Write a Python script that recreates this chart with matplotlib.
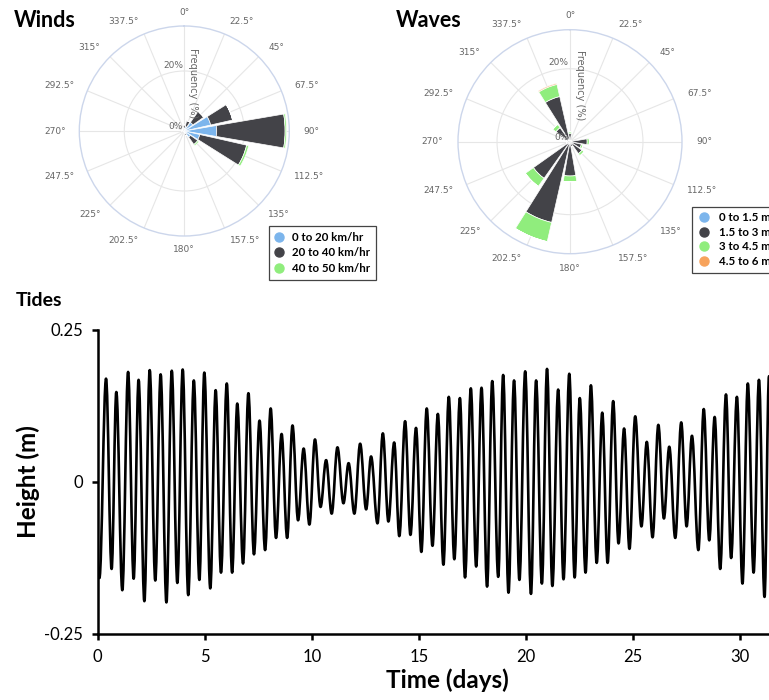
import matplotlib
matplotlib.use('Agg')
import matplotlib.pyplot as plt
import numpy as np
from matplotlib.path import Path
from matplotlib.patches import PathPatch
from matplotlib.lines import Line2D

# ---- rose data (frequency %, per direction) ----
rose_dirs = [0, 22.5, 45, 67.5, 90, 112.5, 135, 157.5, 180, 202.5, 225, 247.5, 270, 292.5, 315, 337.5]

wind_labels = ['0 to 20 km/hr', '20 to 40 km/hr', '40 to 50 km/hr']
wind_slow = [0.8, 1.5, 3.5, 9.0, 10.8, 5.3, 2.5, 0.8, 0.4, 0.3, 0.3, 0.3, 0.5, 0.4, 0.5, 0.6]
wind_mid = [1.2, 2.0, 4.4, 7.5, 22.8, 16.0, 3.0, 0.8, 0.3, 0.0, 0.0, 0.2, 0.5, 0.4, 0.4, 0.5]
wind_fast = [0.0, 0.0, 0.0, 0.0, 0.5, 0.7, 0.5, 0.0, 0.0, 0.0, 0.0, 0.0, 0.0, 0.0, 0.0, 0.0]

wave_labels = ['0 to 1.5 m', '1.5 to 3 m', '3 to 4.5 m', '4.5 to 6 m']
wave_low = [0.2, 0.0, 0.0, 0.0, 0.2, 0.0, 0.0, 0.0, 0.2, 0.2, 0.2, 0.0, 0.0, 0.0, 0.2, 0.2]
wave_mid = [2.0, 0.3, 0.3, 0.5, 4.5, 3.2, 4.0, 1.5, 9.2, 22.5, 12.1, 1.0, 0.8, 1.0, 4.5, 12.5]
wave_high = [0.5, 0.0, 0.0, 0.0, 0.6, 0.5, 0.7, 0.0, 1.6, 5.4, 2.7, 0.0, 0.0, 0.0, 1.1, 3.4]
wave_top = [0.0, 0.0, 0.0, 0.0, 0.0, 0.0, 0.0, 0.0, 0.0, 0.0, 0.0, 0.0, 0.0, 0.0, 0.0, 0.3]

rose_colors = ['#7cb5ec', '#434348', '#90ed7d', '#f7a35c']

# ---- tide extrema (days, metres) ----
peak_days = [0.39, 0.87, 1.42, 1.91, 2.43, 2.94, 3.46, 3.97, 4.49, 4.98, 5.51, 6.03, 6.52, 7.04,
             7.56, 8.08, 8.59, 9.10, 9.62, 10.15, 10.67, 11.20, 11.72, 12.26, 12.77, 13.32, 13.85,
             14.36, 14.87, 15.37, 15.89, 16.40, 16.92, 17.43, 17.93, 18.43, 18.94, 19.45, 19.97,
             20.48, 20.99, 21.51, 22.03, 22.52, 23.04, 23.57, 24.08, 24.59, 25.11, 25.65, 26.19,
             26.70, 27.26, 27.76, 28.31, 28.82, 29.35, 29.86, 30.37, 30.89, 31.36]
peak_m = [0.170, 0.148, 0.181, 0.168, 0.184, 0.177, 0.183, 0.185, 0.167, 0.180, 0.151, 0.162,
          0.129, 0.146, 0.101, 0.121, 0.079, 0.093, 0.055, 0.070, 0.036, 0.057, 0.031, 0.063,
          0.042, 0.080, 0.065, 0.100, 0.089, 0.121, 0.112, 0.140, 0.138, 0.154, 0.155, 0.166,
          0.176, 0.167, 0.182, 0.167, 0.186, 0.152, 0.178, 0.138, 0.159, 0.114, 0.133, 0.088,
          0.108, 0.066, 0.094, 0.058, 0.098, 0.076, 0.120, 0.107, 0.144, 0.140, 0.162, 0.168, 0.174]
trough_days = [0.08, 0.65, 1.15, 1.68, 2.18, 2.69, 3.21, 3.72, 4.23, 4.75, 5.26, 5.76, 6.28, 6.79,
               7.30, 7.82, 8.33, 8.85, 9.36, 9.89, 10.41, 10.93, 11.48, 11.99, 12.54, 13.07, 13.58,
               14.09, 14.61, 15.12, 15.64, 16.15, 16.66, 17.16, 17.68, 18.19, 18.71, 19.19, 19.70,
               20.24, 20.75, 21.24, 21.76, 22.28, 22.79, 23.31, 23.82, 24.33, 24.84, 25.40, 25.92,
               26.45, 26.98, 27.51, 28.06, 28.57, 29.08, 29.59, 30.12, 30.64, 31.15]
trough_m = [-0.158, -0.143, -0.178, -0.159, -0.196, -0.162, -0.198, -0.166, -0.186, -0.161, -0.175,
            -0.149, -0.149, -0.134, -0.119, -0.112, -0.092, -0.092, -0.063, -0.070, -0.041, -0.052,
            -0.035, -0.052, -0.045, -0.068, -0.065, -0.089, -0.087, -0.115, -0.105, -0.136, -0.127,
            -0.157, -0.139, -0.172, -0.156, -0.182, -0.161, -0.184, -0.167, -0.171, -0.160, -0.157,
            -0.149, -0.133, -0.133, -0.101, -0.110, -0.073, -0.091, -0.060, -0.092, -0.073, -0.112,
            -0.096, -0.143, -0.125, -0.167, -0.149, -0.189]

x_ticks = [0, 5, 10, 15, 20, 25, 30]
y_ticks = [-0.25, 0, 0.25]
y_ticklabels = ['-0.25', '0', '0.25']

W, H = 769, 700
GRAY = '#666666'

fig = plt.figure(figsize=(W / 100, H / 100), dpi=100)


def px_rect(cx, cy, r):
    """axes rect for a circle centred at pixel (cx, cy) with pixel radius r"""
    return [(cx - r) / W, 1 - (cy + r) / H, 2 * r / W, 2 * r / H]


def draw_rose(rect, series, labels, rmax, freq_r, freq_dx, legend_xy, spacing, hlen, hpad):
    ax = fig.add_axes(rect, projection='polar')
    ax.set_theta_zero_location('N')
    ax.set_theta_direction(-1)
    theta = np.deg2rad(rose_dirs)
    width = np.deg2rad(22.5) * 0.86
    bottom = np.zeros(len(rose_dirs))
    for vals, col in zip(series, rose_colors):
        vals = np.array(vals)
        ax.bar(theta, vals, width=width, bottom=bottom, color=col, edgecolor='white', linewidth=0.5, zorder=3)
        bottom = bottom + vals
    ax.set_ylim(0, rmax)
    ax.set_yticks([20])
    ax.set_yticklabels([])
    ax.set_xticks(theta)
    ax.set_xticklabels([])
    ax.grid(color='#e6e6e6', linewidth=0.8)
    ax.spines['polar'].set_color('#ccd6eb')
    ax.spines['polar'].set_linewidth(1.0)

    for d in rose_dirs:
        if d in (0, 180):
            ha = 'center'
        elif d < 180:
            ha = 'left'
        else:
            ha = 'right'
        ax.text(np.deg2rad(d), rmax * 1.13, '{0:g}°'.format(d), ha=ha, va='center',
                fontsize=6.5, color=GRAY, clip_on=False)

    ax.annotate('20%', xy=(0, 20), xytext=(-1, 1), textcoords='offset points',
                ha='right', va='bottom', fontsize=6.5, color=GRAY)
    ax.annotate('0%', xy=(0, 0), xytext=(-1, 0), textcoords='offset points',
                ha='right', va='bottom', fontsize=6.5, color=GRAY)
    ax.annotate('Frequency (%)', xy=(0, freq_r), xytext=(freq_dx, 0), textcoords='offset points',
                rotation=270, ha='center', va='center', fontsize=7, color=GRAY)

    handles = [Line2D([], [], marker='o', linestyle='', markersize=6.5, markerfacecolor=c,
                      markeredgecolor=c) for c in rose_colors[:len(labels)]]
    leg = fig.legend(handles, labels, loc='upper left',
                     bbox_to_anchor=(legend_xy[0] / W, 1 - legend_xy[1] / H),
                     bbox_transform=fig.transFigure, frameon=True, fancybox=False,
                     edgecolor='#444444', framealpha=1, borderaxespad=0,
                     prop=dict(family='Lato', weight='bold', size=8.3),
                     handlelength=hlen, handletextpad=hpad, labelspacing=spacing, borderpad=0.5)
    leg.get_frame().set_linewidth(0.9)
    return ax


draw_rose(px_rect(184.3, 131, 105), [wind_slow, wind_mid, wind_fast], wind_labels,
          35, 16, 6, (269, 226), 0.4, 0.8, 0.7)
draw_rose(px_rect(570, 141.7, 112), [wave_low, wave_mid, wave_high, wave_top], wave_labels,
          30.7, 15.5, 7.5, (692, 206.7), 0.3, 1.0, 0.85)

title_font = dict(family='Lato', fontweight='bold')
fig.text(14 / W, 1 - 10 / H, 'Winds', ha='left', va='top', fontsize=15.5, **title_font)
fig.text(396 / W, 1 - 10 / H, 'Waves', ha='left', va='top', fontsize=15.5, **title_font)
fig.text(16 / W, 1 - 292 / H, 'Tides', ha='left', va='top', fontsize=14, **title_font)

# ---- tides ----
ax = fig.add_axes([97.7 / W, 1 - 634 / H, 700 / W, 304 / H])

# merge extrema in time order and join them with half-cosine-like bezier arcs
ext = sorted(zip(peak_days + trough_days, peak_m + trough_m))
k = 0.3634
verts = [ext[0]]
codes = [Path.MOVETO]
for (t0, h0), (t1, h1) in zip(ext[:-1], ext[1:]):
    dt = t1 - t0
    verts += [(t0 + k * dt, h0), (t1 - k * dt, h1), (t1, h1)]
    codes += [Path.CURVE4] * 3
ax.add_patch(PathPatch(Path(verts, codes), fill=False, edgecolor='black', linewidth=1.9,
                       capstyle='round', joinstyle='round'))

ax.set_xlim(0, 32.7)
ax.set_ylim(-0.25, 0.25)
ax.set_xticks(x_ticks)
ax.set_yticks(y_ticks)
ax.set_yticklabels(y_ticklabels)
for side in ['top', 'right']:
    ax.spines[side].set_visible(False)
for side in ['left', 'bottom']:
    ax.spines[side].set_linewidth(1.8)
ax.tick_params(width=1.8, length=4.5, pad=6, labelsize=12)
for lab in ax.get_xticklabels() + ax.get_yticklabels():
    lab.set_family('Lato')
ax.set_xlabel('Time (days)', fontsize=17.5, fontweight='bold', family='Lato', labelpad=3)
ax.set_ylabel('Height (m)', fontsize=17.5, fontweight='bold', family='Lato', labelpad=3)

fig.savefig('out.png', dpi=100)
